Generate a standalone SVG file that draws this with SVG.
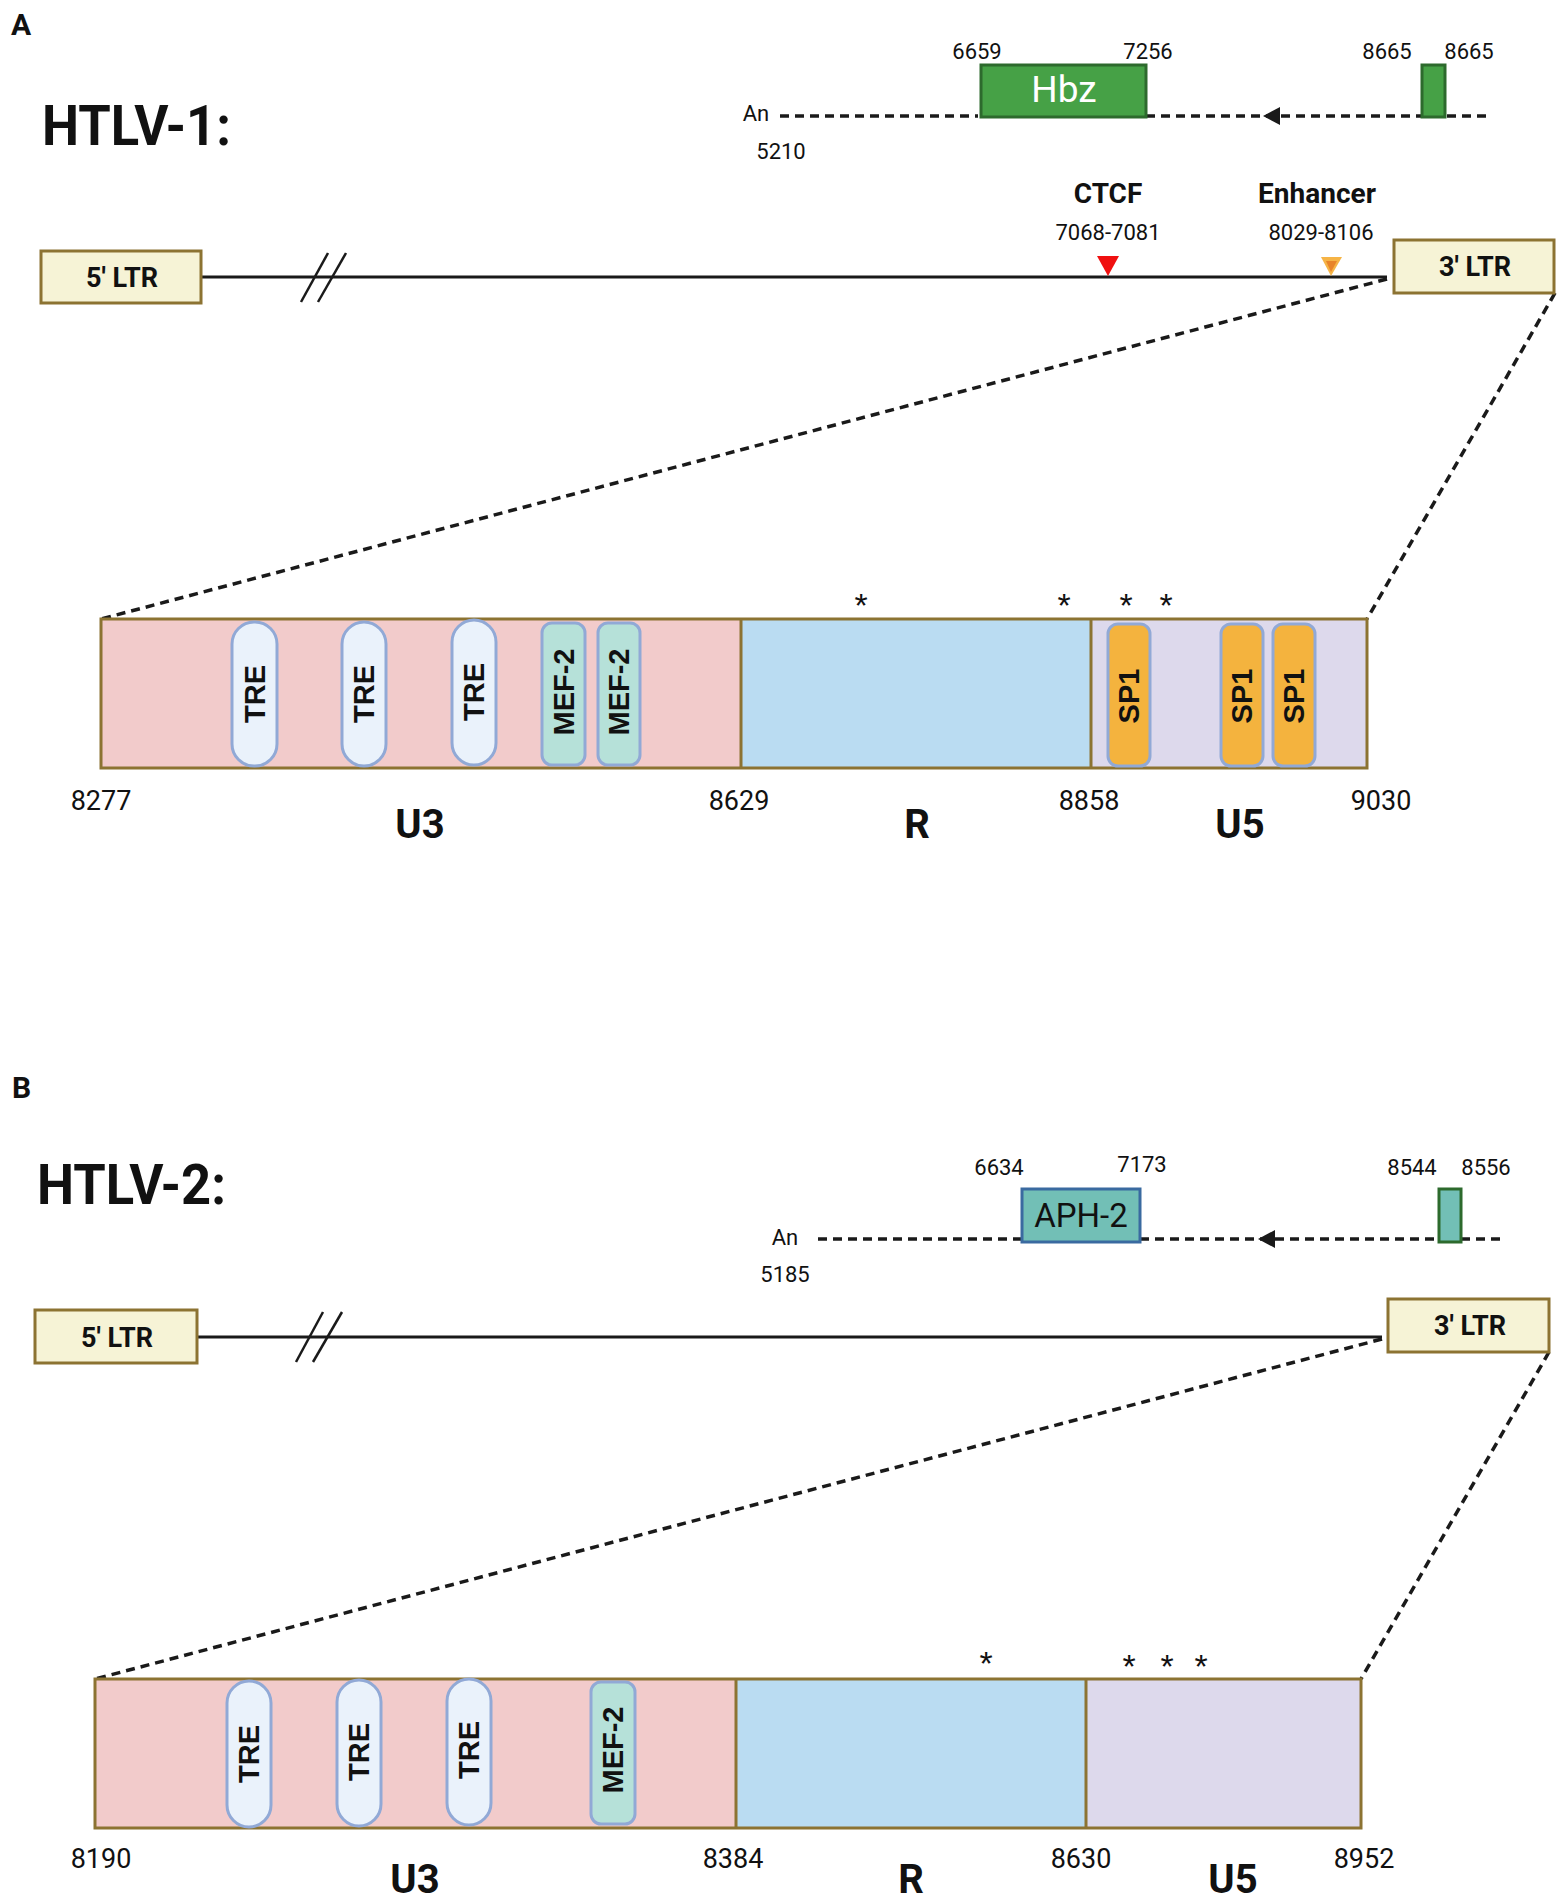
<svg xmlns="http://www.w3.org/2000/svg" width="1562" height="1900" viewBox="0 0 1562 1900">
<style>
.bg{fill:#ffffff}
.lbl{font-family:Roboto,"Liberation Sans",sans-serif;fill:#111}
.num{font-family:Roboto,"Liberation Sans",sans-serif;font-size:22px;fill:#111;text-anchor:middle}
.cnum{font-family:Roboto,"Liberation Sans",sans-serif;font-size:27px;fill:#111;text-anchor:middle}
.reg{font-family:Roboto,"Liberation Sans",sans-serif;font-size:40px;font-weight:bold;fill:#111;text-anchor:middle}
.ltr{fill:#f6f3d6;stroke:#8c7332;stroke-width:3}
.ltrt{font-family:Roboto,"Liberation Sans",sans-serif;font-size:27px;font-weight:bold;fill:#111;text-anchor:middle}
.main{stroke:#1a1a1a;stroke-width:3;fill:none}
.dash{stroke:#1a1a1a;stroke-width:3.5;fill:none;stroke-dasharray:9 6}
.u3{fill:#f2cbcb}
.r{fill:#badcf2}
.u5{fill:#ddd9ec}
.frame{fill:none;stroke:#8c7332;stroke-width:3}
.tre{fill:#eaf2fb;stroke:#91a9d6;stroke-width:3}
.mef{fill:#b6e1d9;stroke:#91a9d6;stroke-width:3}
.sp1{fill:#f4b33e;stroke:#91a9d6;stroke-width:3}
.pt{font-family:"Liberation Sans",Arial,sans-serif;font-size:29px;font-weight:bold;fill:#111;text-anchor:middle;dominant-baseline:central}
.star{font-family:"Liberation Sans",Arial,sans-serif;font-size:34px;fill:#111;text-anchor:middle}
</style>
<rect class="bg" x="0" y="0" width="1562" height="1900"/>

<!-- Panel A -->
<g id="panelA-labels">
<text class="lbl" x="11" y="35" font-size="30" font-weight="bold">A</text>
<text class="lbl" x="42" y="145" font-size="56" font-weight="bold" textLength="189" lengthAdjust="spacingAndGlyphs">HTLV-1:</text>
</g>

<g id="connectorsA">
<line class="main" x1="201" y1="277" x2="1387" y2="277"/>
<line x1="301" y1="302" x2="328" y2="253" stroke="#1a1a1a" stroke-width="2.5"/>
<line x1="318" y1="302" x2="346" y2="253" stroke="#1a1a1a" stroke-width="2.5"/>
<line class="dash" x1="780" y1="116" x2="978" y2="116"/>
<line class="dash" x1="1146" y1="116" x2="1422" y2="116"/>
<line class="dash" x1="1447" y1="116" x2="1487" y2="116"/>
<polygon points="1263,116 1280,107 1280,125" fill="#1a1a1a"/>
<line class="dash" x1="1387" y1="279" x2="101" y2="619"/>
<line class="dash" x1="1555" y1="293" x2="1367" y2="619"/>
</g>

<g id="ltr5A"><rect class="ltr" x="41" y="251" width="160" height="52"/><text class="ltrt" x="122" y="287">5' LTR</text></g>
<g id="ltr3A"><rect class="ltr" x="1394" y="240" width="160" height="53"/><text class="ltrt" x="1475" y="276">3' LTR</text></g>

<g id="hbz">
<rect x="981" y="65" width="165" height="52" fill="#46a146" stroke="#2d6a2d" stroke-width="3"/>
<text class="lbl" x="1064" y="102" font-size="37" text-anchor="middle" style="fill:#ffffff">Hbz</text>
<rect x="1422" y="65" width="23" height="52" fill="#46a146" stroke="#2d6a2d" stroke-width="3"/>
<text class="num" x="977" y="59">6659</text>
<text class="num" x="1148" y="59">7256</text>
<text class="num" x="1387" y="59">8665</text>
<text class="num" x="1469" y="59">8665</text>
<text class="num" x="756" y="121">An</text>
<text class="num" x="781" y="159">5210</text>
</g>

<g id="ctcf">
<text class="lbl" x="1108" y="203" font-size="28" font-weight="bold" text-anchor="middle">CTCF</text>
<text class="num" x="1108" y="240">7068-7081</text>
<polygon points="1097,256 1119,256 1108,276" fill="#f01010"/>
</g>
<g id="enhancer">
<text class="lbl" x="1317" y="203" font-size="28" font-weight="bold" text-anchor="middle">Enhancer</text>
<text class="num" x="1321" y="240">8029-8106</text>
<polygon points="1321,257 1342,257 1331,276" fill="#f6b446"/>
<polygon points="1326,261 1337,261 1331,272" fill="#e8842a"/>
</g>

<g id="ltrA-expanded">
<rect class="u3" x="101" y="619" width="640" height="149"/>
<rect class="r" x="741" y="619" width="350" height="149"/>
<rect class="u5" x="1091" y="619" width="276" height="149"/>
<rect class="frame" x="101" y="619" width="1266" height="149"/>
<line class="frame" x1="741" y1="619" x2="741" y2="768"/>
<line class="frame" x1="1091" y1="619" x2="1091" y2="768"/>
</g>
<g id="treA1"><rect class="tre" x="232" y="622" width="45" height="144" rx="22"/><text class="pt" transform="translate(254.5,694) rotate(-90)">TRE</text></g>
<g id="treA2"><rect class="tre" x="342" y="622" width="44" height="144" rx="22"/><text class="pt" transform="translate(364,694) rotate(-90)">TRE</text></g>
<g id="treA3"><rect class="tre" x="452" y="620" width="44" height="145" rx="22"/><text class="pt" transform="translate(474,692) rotate(-90)">TRE</text></g>
<g id="mefA1"><rect class="mef" x="542" y="623" width="43" height="142" rx="10"/><text class="pt" transform="translate(563.5,692) rotate(-90)">MEF-2</text></g>
<g id="mefA2"><rect class="mef" x="598" y="623" width="42" height="142" rx="10"/><text class="pt" transform="translate(619,692) rotate(-90)">MEF-2</text></g>
<g id="sp1A1"><rect class="sp1" x="1108" y="624" width="42" height="142" rx="10"/><text class="pt" transform="translate(1129,696) rotate(-90)">SP1</text></g>
<g id="sp1A2"><rect class="sp1" x="1221" y="624" width="42" height="142" rx="10"/><text class="pt" transform="translate(1242,696) rotate(-90)">SP1</text></g>
<g id="sp1A3"><rect class="sp1" x="1273" y="624" width="42" height="142" rx="10"/><text class="pt" transform="translate(1294,696) rotate(-90)">SP1</text></g>
<g id="starsA">
<text class="star" x="861" y="617">*</text>
<text class="star" x="1064" y="617">*</text>
<text class="star" x="1126" y="617">*</text>
<text class="star" x="1166" y="617">*</text>
</g>
<g id="coordsA">
<text class="cnum" x="101" y="810">8277</text>
<text class="cnum" x="739" y="810">8629</text>
<text class="cnum" x="1089" y="810">8858</text>
<text class="cnum" x="1381" y="810">9030</text>
<text class="reg" x="420" y="838">U3</text>
<text class="reg" x="917" y="838">R</text>
<text class="reg" x="1240" y="838">U5</text>
</g>

<!-- Panel B -->
<g id="panelB-labels">
<text class="lbl" x="12" y="1098" font-size="30" font-weight="bold">B</text>
<text class="lbl" x="37" y="1204" font-size="56" font-weight="bold" textLength="189" lengthAdjust="spacingAndGlyphs">HTLV-2:</text>
</g>

<g id="connectorsB">
<line class="main" x1="197" y1="1337" x2="1382" y2="1337"/>
<line x1="296" y1="1362" x2="323" y2="1312" stroke="#1a1a1a" stroke-width="2.5"/>
<line x1="313" y1="1362" x2="342" y2="1312" stroke="#1a1a1a" stroke-width="2.5"/>
<line class="dash" x1="818" y1="1239" x2="1022" y2="1239"/>
<line class="dash" x1="1140" y1="1239" x2="1439" y2="1239"/>
<line class="dash" x1="1461" y1="1239" x2="1502" y2="1239"/>
<polygon points="1258,1239 1275,1230 1275,1248" fill="#1a1a1a"/>
<line class="dash" x1="1382" y1="1339" x2="95" y2="1679"/>
<line class="dash" x1="1549" y1="1352" x2="1361" y2="1679"/>
</g>

<g id="ltr5B"><rect class="ltr" x="35" y="1310" width="162" height="53"/><text class="ltrt" x="117" y="1347">5' LTR</text></g>
<g id="ltr3B"><rect class="ltr" x="1388" y="1299" width="161" height="53"/><text class="ltrt" x="1470" y="1335">3' LTR</text></g>

<g id="aph2">
<rect x="1022" y="1189" width="118" height="53" fill="#72bfb6" stroke="#3a6aa0" stroke-width="3"/>
<text class="lbl" x="1081" y="1227" font-size="33" text-anchor="middle">APH-2</text>
<rect x="1439" y="1189" width="22" height="53" fill="#72bfb6" stroke="#2d6a2d" stroke-width="3"/>
<text class="num" x="999" y="1175">6634</text>
<text class="num" x="1142" y="1172">7173</text>
<text class="num" x="1412" y="1175">8544</text>
<text class="num" x="1486" y="1175">8556</text>
<text class="num" x="785" y="1245">An</text>
<text class="num" x="785" y="1282">5185</text>
</g>

<g id="ltrB-expanded">
<rect class="u3" x="95" y="1679" width="641" height="149"/>
<rect class="r" x="736" y="1679" width="350" height="149"/>
<rect class="u5" x="1086" y="1679" width="275" height="149"/>
<rect class="frame" x="95" y="1679" width="1266" height="149"/>
<line class="frame" x1="736" y1="1679" x2="736" y2="1828"/>
<line class="frame" x1="1086" y1="1679" x2="1086" y2="1828"/>
</g>
<g id="treB1"><rect class="tre" x="227" y="1681" width="44" height="146" rx="22"/><text class="pt" transform="translate(249,1754) rotate(-90)">TRE</text></g>
<g id="treB2"><rect class="tre" x="337" y="1680" width="44" height="146" rx="22"/><text class="pt" transform="translate(359,1752) rotate(-90)">TRE</text></g>
<g id="treB3"><rect class="tre" x="447" y="1679" width="44" height="146" rx="22"/><text class="pt" transform="translate(469,1750) rotate(-90)">TRE</text></g>
<g id="mefB1"><rect class="mef" x="591" y="1682" width="44" height="142" rx="10"/><text class="pt" transform="translate(613,1750) rotate(-90)">MEF-2</text></g>
<g id="starsB">
<text class="star" x="986" y="1675">*</text>
<text class="star" x="1129" y="1678">*</text>
<text class="star" x="1167" y="1678">*</text>
<text class="star" x="1201" y="1678">*</text>
</g>
<g id="coordsB">
<text class="cnum" x="101" y="1868">8190</text>
<text class="cnum" x="733" y="1868">8384</text>
<text class="cnum" x="1081" y="1868">8630</text>
<text class="cnum" x="1364" y="1868">8952</text>
<text class="reg" x="415" y="1893">U3</text>
<text class="reg" x="911" y="1893">R</text>
<text class="reg" x="1233" y="1893">U5</text>
</g>
</svg>
